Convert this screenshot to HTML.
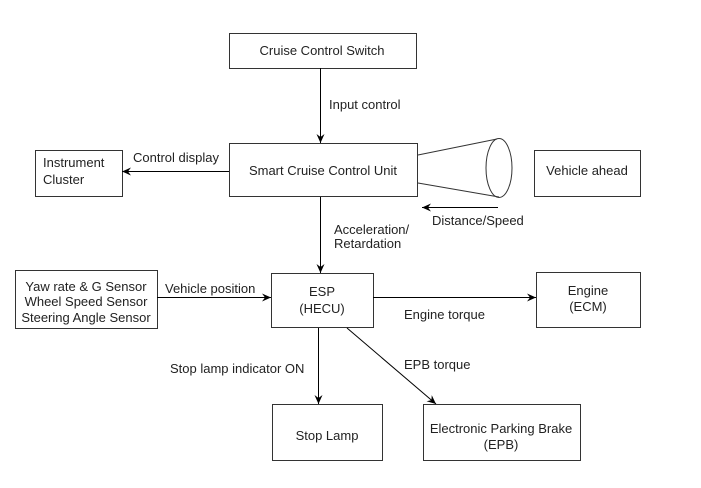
<!DOCTYPE html>
<html><head><style>
body{margin:0;background:#fff;}
svg{display:block;}
text{font-family:"Liberation Sans",sans-serif;font-size:13px;fill:#222;}
</style></head><body>
<svg width="701" height="488" viewBox="0 0 701 488" xmlns="http://www.w3.org/2000/svg">
<defs><marker id="a" markerWidth="10" markerHeight="10" refX="9" refY="5" orient="auto" markerUnits="userSpaceOnUse"><path d="M0,1 L9,5 L0,9 L3,5 Z" fill="#000"/></marker></defs>
<g fill="none" stroke="#333" stroke-width="1">
<rect x="229.5" y="33.5" width="187" height="35"/>
<rect x="229.5" y="143.5" width="188" height="53"/>
<rect x="35.5" y="150.5" width="87" height="46"/>
<rect x="534.5" y="150.5" width="106" height="46"/>
<rect x="15.5" y="270.5" width="142" height="58"/>
<rect x="271.5" y="273.5" width="102" height="54"/>
<rect x="536.5" y="272.5" width="104" height="55"/>
<rect x="272.5" y="404.5" width="110" height="56"/>
<rect x="423.5" y="404.5" width="157" height="56"/>
<line x1="418" y1="155" x2="497" y2="139"/>
<line x1="418" y1="183" x2="499" y2="197"/>
<ellipse cx="499" cy="168" rx="13" ry="29.5"/>
</g>
<g stroke="#000" stroke-width="1" marker-end="url(#a)">
<line x1="320.5" y1="68" x2="320.5" y2="143"/>
<line x1="320.5" y1="197" x2="320.5" y2="273"/>
<line x1="229" y1="171.5" x2="122" y2="171.5"/>
<line x1="498" y1="207.5" x2="422" y2="207.5"/>
<line x1="157" y1="297.5" x2="271" y2="297.5"/>
<line x1="373" y1="297.5" x2="536" y2="297.5"/>
<line x1="318.5" y1="328" x2="318.5" y2="404"/>
<line x1="347" y1="328" x2="436" y2="404"/>
</g>
<text x="322" y="55" text-anchor="middle">Cruise Control Switch</text>
<text x="329" y="109">Input control</text>
<text x="323" y="175" text-anchor="middle">Smart Cruise Control Unit</text>
<text x="43" y="167">Instrument</text>
<text x="43" y="184">Cluster</text>
<text x="133" y="162">Control display</text>
<text x="587" y="175" text-anchor="middle">Vehicle ahead</text>
<text x="432" y="225">Distance/Speed</text>
<text x="334" y="234">Acceleration/</text>
<text x="334" y="248">Retardation</text>
<text x="86" y="291" text-anchor="middle">Yaw rate &amp; G Sensor</text>
<text x="86" y="306" text-anchor="middle">Wheel Speed Sensor</text>
<text x="86" y="322" text-anchor="middle">Steering Angle Sensor</text>
<text x="165" y="293">Vehicle position</text>
<text x="322" y="296" text-anchor="middle">ESP</text>
<text x="322" y="313" text-anchor="middle">(HECU)</text>
<text x="404" y="319">Engine torque</text>
<text x="588" y="295" text-anchor="middle">Engine</text>
<text x="588" y="311" text-anchor="middle">(ECM)</text>
<text x="170" y="373">Stop lamp indicator ON</text>
<text x="404" y="369">EPB torque</text>
<text x="327" y="440" text-anchor="middle">Stop Lamp</text>
<text x="501" y="433" text-anchor="middle">Electronic Parking Brake</text>
<text x="501" y="449" text-anchor="middle">(EPB)</text>
</svg>
</body></html>
